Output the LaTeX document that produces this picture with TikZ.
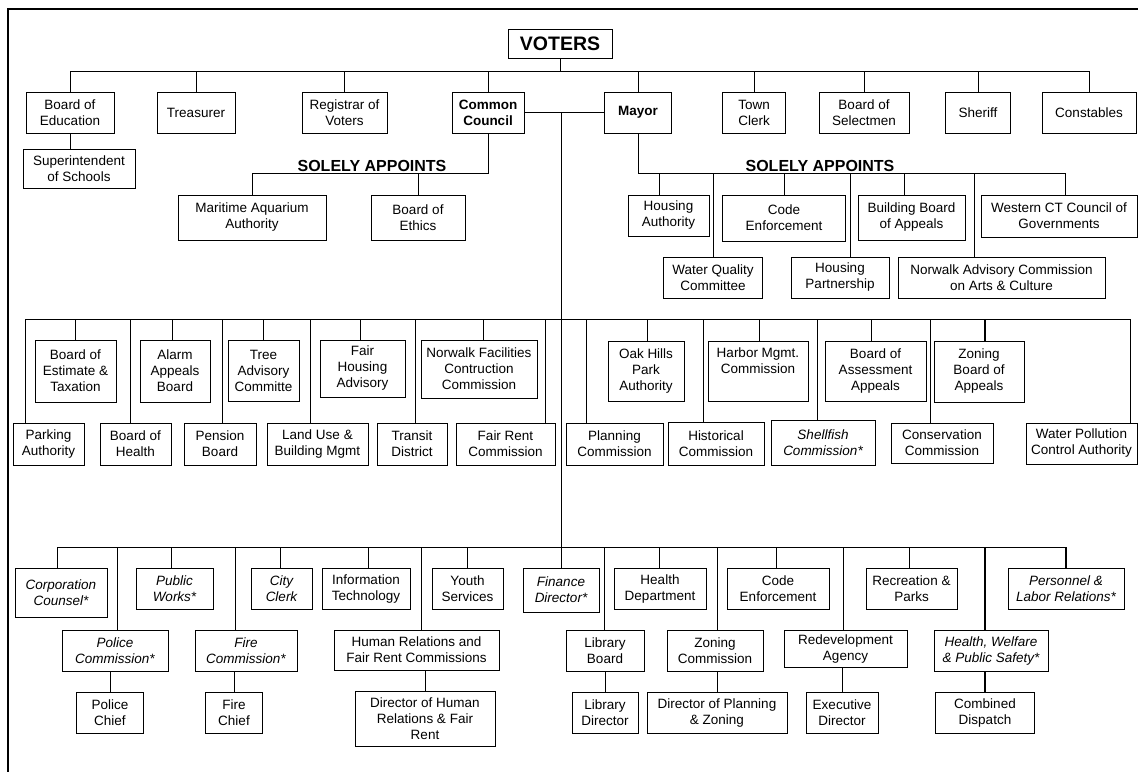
\documentclass[tikz,border=0pt]{standalone}
\usepackage{fontspec}
\setmainfont{Liberation Sans}

\newcommand{\boxfont}{\fontsize{13.5}{16}\selectfont}

\tikzset{
    box/.style={draw, line width=.8pt, inner sep=0pt, align=center, font=\boxfont},
    ibox/.style={box, font=\boxfont\itshape},
    bbox/.style={box, font=\boxfont\bfseries},
    link/.style={line width=.8pt},
    heavylink/.style={line width=2pt},
    head/.style={anchor=base, font=\fontsize{16}{18}\selectfont\bfseries},
}

\begin{document}
\begin{tikzpicture}[x=1pt,y=-1pt]
        \useasboundingbox (0,0) rectangle (1138,772);
        \draw[line width=1.2pt] (1138,9) -- (8,9) -- (8,772);

        % elected
        \node[bbox, font=\fontsize{19.5}{22}\selectfont\bfseries, minimum width=104pt, minimum height=29pt] (voters) at (560,43.5) {VOTERS};
        \node[box, minimum width=88pt, minimum height=41pt] (boe) at (70,112.5) {Board of\\Education};
        \node[box, minimum width=78pt, minimum height=41pt] (treas) at (196,112.5) {Treasurer};
        \node[box, minimum width=85pt, minimum height=41pt] (reg) at (344.5,112.5) {Registrar of\\Voters};
        \node[bbox, minimum width=72pt, minimum height=41pt] (cc) at (488,112.5) {Common\\Council};
        \node[bbox, minimum width=67pt, minimum height=41pt] (mayor) at (638,112.5) {Mayor};
        \node[box, minimum width=63pt, minimum height=41pt] (tclerk) at (754,112.5) {Town\\Clerk};
        \node[box, minimum width=90pt, minimum height=41pt] (selm) at (864,112.5) {Board of\\Selectmen};
        \node[box, minimum width=65pt, minimum height=41pt] (sheriff) at (978,112.5) {Sheriff};
        \node[box, minimum width=94pt, minimum height=41pt] (cons) at (1089,112.5) {Constables};
        \node[box, minimum width=112pt, minimum height=39pt] (supt) at (79,168.5) {Superintendent\\of Schools};

        \coordinate (topbus) at (0,71);
        \draw[link] (voters.south) -- (voters.south |- topbus);
        \draw[link] (boe.north |- topbus) -- (cons.north |- topbus);
        \foreach \n in {boe,treas,reg,cc,mayor,tclerk,selm,sheriff,cons}
        {
            \draw[link] (\n.north) -- (\n.north |- topbus);
        }
        \draw[link] (boe.south) -- (boe.south |- supt.north);

        % appointed by council / mayor
        \node[head] (cchead) at (372,171) {SOLELY APPOINTS};
        \node[head] (mhead) at (820,171) {SOLELY APPOINTS};
        \node[box, minimum width=148pt, minimum height=45pt] (mar) at (252,217.5) {Maritime Aquarium\\Authority};
        \node[box, minimum width=94pt, minimum height=45pt] (eth) at (418,217.5) {Board of\\Ethics};
        \node[box, minimum width=81pt, minimum height=41pt] (hauth) at (668.5,215.5) {Housing\\Authority};
        \node[box, minimum width=123pt, minimum height=46pt] (codeA) at (784,218) {Code\\Enforcement};
        \node[box, minimum width=107pt, minimum height=45pt] (bbapp) at (911.5,217.5) {Building Board\\of Appeals};
        \node[box, minimum width=156pt, minimum height=42pt] (wct) at (1059,216) {Western CT Council of\\Governments};
        \node[box, minimum width=99pt, minimum height=41pt] (wqc) at (713,277.5) {Water Quality\\Committee};
        \node[box, minimum width=98pt, minimum height=41pt] (hpart) at (840,277.5) {Housing\\Partnership};
        \node[box, minimum width=207pt, minimum height=41pt] (nac) at (1001.5,277.5) {Norwalk Advisory Commission\\on Arts \& Culture};

        \coordinate (apbus) at (0,173);
        \draw[link] (cc.south) -- (cc.south |- apbus) -- (mar.north |- apbus) -- (mar.north);
        \draw[link] (eth.north) -- (eth.north |- apbus);
        \foreach \n/\dx in {hauth/-9.5, wqc/0, codeA/0, hpart/10, bbapp/-7.5, nac/-27.5, wct/6}
        {
            \coordinate (s-\n) at ([xshift=\dx pt]\n.north);
            \draw[link] (s-\n) -- (s-\n |- apbus);
        }
        \draw[link] (mayor.south) -- (mayor.south |- apbus) -- (s-wct |- apbus);

        % boards and commissions
        \node[box, minimum width=81pt, minimum height=62pt] (best) at (75.5,371) {Board of\\Estimate \&\\Taxation};
        \node[box, minimum width=70pt, minimum height=62pt] (alarm) at (175,371) {Alarm\\Appeals\\Board};
        \node[box, minimum width=71pt, minimum height=61pt] (tree) at (263.5,370.5) {Tree\\Advisory\\Committe};
        \node[box, minimum width=85pt, minimum height=57pt] (fhouse) at (362.5,368.5) {Fair\\Housing\\Advisory};
        \node[box, minimum width=116pt, minimum height=58pt] (nfcc) at (479,369) {Norwalk Facilities\\Contruction\\Commission};
        \node[box, minimum width=76pt, minimum height=60pt] (oak) at (646,371) {Oak Hills\\Park\\Authority};
        \node[box, minimum width=100pt, minimum height=60pt] (harbor) at (758,371) {Harbor Mgmt.\\Commission\\\strut};
        \node[box, minimum width=101pt, minimum height=60pt] (assess) at (875.5,371) {Board of\\Assessment\\Appeals};
        \node[box, minimum width=90pt, minimum height=61pt] (zba) at (979,371.5) {Zoning\\Board of\\Appeals};

        \node[box, minimum width=71pt, minimum height=42pt] (park) at (48.5,444) {Parking\\Authority};
        \node[box, minimum width=71pt, minimum height=42pt] (bhealth) at (135.5,444) {Board of\\Health};
        \node[box, minimum width=72pt, minimum height=42pt] (pension) at (220,444) {Pension\\Board};
        \node[box, minimum width=101pt, minimum height=42pt] (landuse) at (317.5,444) {Land Use \&\\Building Mgmt};
        \node[box, minimum width=70pt, minimum height=42pt] (transit) at (412,444) {Transit\\District};
        \node[box, minimum width=99pt, minimum height=42pt] (fairrent) at (505.5,444) {Fair Rent\\Commission};
        \node[box, minimum width=97pt, minimum height=42pt] (planning) at (614.5,444) {Planning\\Commission};
        \node[box, minimum width=96pt, minimum height=43pt] (hist) at (716,443.5) {Historical\\Commission};
        \node[ibox, minimum width=104pt, minimum height=45pt] (shell) at (823,442.5) {Shellfish\\Commission*};
        \node[box, minimum width=102pt, minimum height=40pt] (conserv) at (942,443) {Conservation\\Commission};
        \node[box, minimum width=111pt, minimum height=41pt] (wpca) at (1081.5,443.5) {Water Pollution\\Control Authority};

        \coordinate (midbus) at (0,319);
        \foreach \n/\dx in {park/-23.5, best/0, bhealth/-5.5, alarm/-3, pension/2, tree/0, landuse/-7.5,
            fhouse/-2.5, transit/3, nfcc/4, fairrent/39.5, planning/-28.5, oak/1, hist/-13, harbor/1,
            shell/-6, assess/-4.5, conserv/-12, wpca/48.5}
        {
            \coordinate (s-\n) at ([xshift=\dx pt]\n.north);
            \draw[link] (s-\n) -- (s-\n |- midbus);
        }
        \coordinate (s-zba) at ([xshift=6pt]zba.north);
        \draw[heavylink] (s-zba) -- (s-zba |- midbus);
        \draw[link] (s-park |- midbus) -- (s-wpca |- midbus);

        % departments
        \node[ibox, minimum width=92pt, minimum height=49pt] (corp) at (61,592.5) {Corporation\\Counsel*};
        \node[ibox, minimum width=77pt, minimum height=41pt] (pworks) at (174.5,588.5) {Public\\Works*};
        \node[ibox, minimum width=61pt, minimum height=41pt] (cclerk) at (281.5,588.5) {City\\Clerk};
        \node[box, minimum width=88pt, minimum height=41pt] (itech) at (366,588.5) {Information\\Technology};
        \node[box, minimum width=71pt, minimum height=41pt] (youth) at (467.5,588.5) {Youth\\Services};
        \node[ibox, minimum width=76pt, minimum height=44pt] (fin) at (561,590) {Finance\\Director*};
        \node[box, minimum width=92pt, minimum height=41pt] (hdept) at (660,588.5) {Health\\Department};
        \node[box, minimum width=102pt, minimum height=41pt] (codeB) at (778,588.5) {Code\\Enforcement};
        \node[box, minimum width=91pt, minimum height=41pt] (rec) at (911.5,588.5) {Recreation \&\\Parks};
        \node[ibox, minimum width=116pt, minimum height=41pt] (pers) at (1066,588.5) {Personnel \&\\Labor Relations*};

        \node[ibox, minimum width=106pt, minimum height=41pt] (pcomm) at (115,650.5) {Police\\Commission*};
        \node[ibox, minimum width=102pt, minimum height=41pt] (fcomm) at (246,650.5) {Fire\\Commission*};
        \node[box, minimum width=165pt, minimum height=40pt] (hrfr) at (416.5,650) {Human Relations and\\Fair Rent Commissions};
        \node[box, minimum width=78pt, minimum height=41pt] (lib) at (605,650.5) {Library\\Board};
        \node[box, minimum width=96pt, minimum height=41pt] (zcomm) at (715,650.5) {Zoning\\Commission};
        \node[box, minimum width=123pt, minimum height=37pt] (redev) at (845.5,648.5) {Redevelopment\\Agency};
        \node[ibox, minimum width=114pt, minimum height=41pt] (hwps) at (991,650.5) {Health, Welfare\\\& Public Safety*};

        \node[box, minimum width=67pt, minimum height=41pt] (pchief) at (110,712.5) {Police\\Chief};
        \node[box, minimum width=57pt, minimum height=41pt] (fchief) at (234,712.5) {Fire\\Chief};
        \node[box, minimum width=140pt, minimum height=55pt] (dhr) at (425,718.5) {Director of Human\\Relations \& Fair\\Rent};
        \node[box, minimum width=66pt, minimum height=41pt] (libdir) at (605,712.5) {Library\\Director};
        \node[box, minimum width=140pt, minimum height=41pt] (dpz) at (717,712.5) {Director of Planning\\\& Zoning};
        \node[box, minimum width=72pt, minimum height=41pt] (exdir) at (842,712.5) {Executive\\Director};
        \node[box, minimum width=99pt, minimum height=41pt] (cdisp) at (985,712.5) {Combined\\Dispatch};

        \coordinate (botbus) at (0,547);
        \foreach \n/\dx in {corp/-4, pcomm/2, pworks/-3.5, fcomm/-11, cclerk/-1.5, itech/2, hrfr/4.5,
            youth/0, lib/-1, hdept/-1, zcomm/2, codeB/-2, redev/-2.5, rec/-2.5}
        {
            \coordinate (s-\n) at ([xshift=\dx pt]\n.north);
            \draw[link] (s-\n) -- (s-\n |- botbus);
        }
        \coordinate (s-hwps) at ([xshift=-6pt]hwps.north);
        \draw[heavylink] (s-hwps) -- (s-hwps |- botbus);
        \draw[line width=1.4pt] (pers.north) -- (pers.north |- botbus);
        \draw[link] (s-corp |- botbus) -- (pers.north |- botbus);

        \foreach \p/\c in {pcomm/pchief, fcomm/fchief, hrfr/dhr, lib/libdir, zcomm/dpz, redev/exdir}
        {
            \draw[link] (\c.north) -- (\c.north |- \p.south);
        }
        \draw[heavylink] (cdisp.north) -- (cdisp.north |- hwps.south);

        % council -- mayor, and the line down to everything below
        \draw[link] (cc.east) -- (mayor.west);
        \draw[link] (cc.east -| fin.north) -- (fin.north);

    \end{tikzpicture}
\end{document}
